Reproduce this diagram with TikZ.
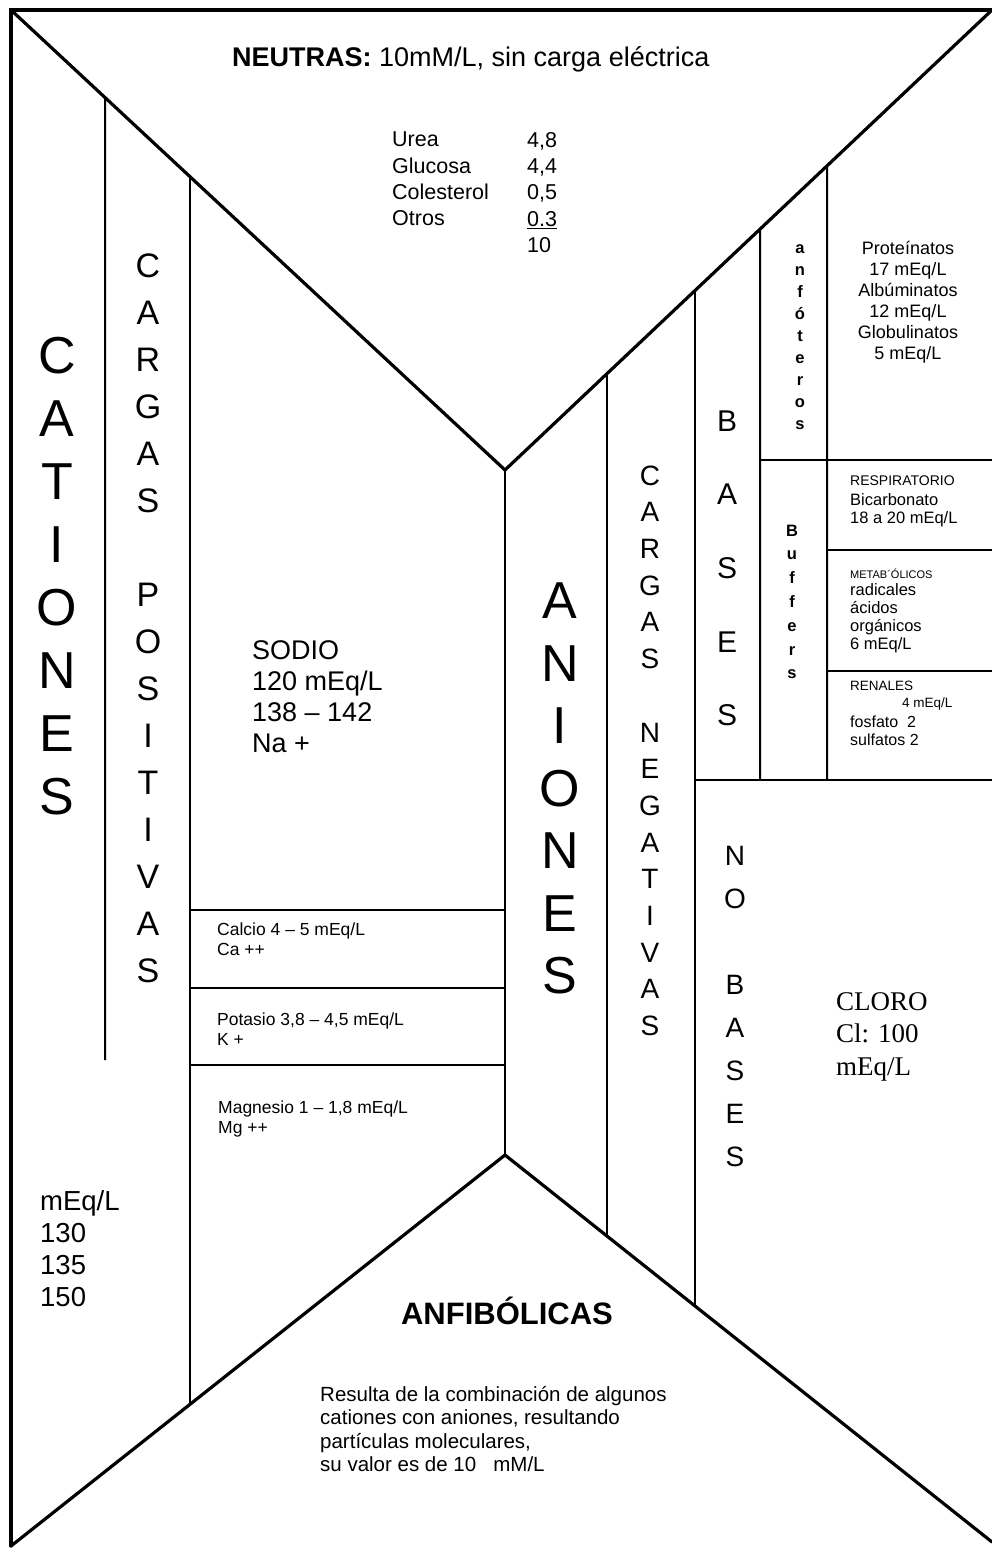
\documentclass[tikz,border=0pt]{standalone}
\usepackage{fontspec}
\setmainfont{Liberation Sans}
\newfontfamily\cloroserif{Liberation Serif}
\usetikzlibrary{calc}

\newcommand\sz[2]{\fontsize{#1}{#2}\selectfont}

\begin{document}
\begin{tikzpicture}[x=1pt, y=-1pt,
  frame/.style={line width=3.2pt, line cap=round, line join=miter},
  divider/.style={line width=2pt},
  bigletter/.style={anchor=base, inner sep=0pt, font=\sz{52}{52}},
  midletter/.style={anchor=base, inner sep=0pt, font=\sz{34}{34}},
  negletter/.style={anchor=base, inner sep=0pt, font=\sz{28}{28}},
  basletter/.style={anchor=base, inner sep=0pt, font=\sz{30}{30}},
  boldletter/.style={anchor=base, inner sep=0pt, font=\bfseries\sz{16.5}{16.5}},
  txt/.style={anchor=north west, inner sep=0pt, align=left}
]
\useasboundingbox (0,0) rectangle (992,1548);

%% ---- frame corners and the two V points ----
\coordinate (tl)   at (11,10);
\coordinate (tr)   at (992,10);
\coordinate (bl)   at (11,1546);
\coordinate (br)   at (992,1542);
\coordinate (vtop) at (505,470);
\coordinate (vbot) at (505,1155);

\draw[frame] (bl) -- (tl) -- (tr);
\draw[frame] (tl) -- (vtop) -- (tr);
\draw[frame] (bl) -- (vbot) -- (br);
\draw[divider] (vtop) -- (vbot);

%% ---- left columns ----
\draw[divider] ($(tl)!0.1903!(vtop)$) -- (105,1060);
\draw[divider] ($(tl)!0.3623!(vtop)$) -- ($(bl)!0.3623!(vbot)$);
\foreach \yy in {910,988,1065}
  \draw[divider] (190,\yy) -- (505,\yy);

%% ---- right columns ----
\draw[divider] ($(tr)!0.7906!(vtop)$) -- ($(br)!0.7906!(vbot)$);
\draw[divider] ($(tr)!0.6099!(vtop)$) -- ($(br)!0.6099!(vbot)$);
\draw[divider] ($(tr)!0.4764!(vtop)$) -- (760,780);
\draw[divider] ($(tr)!0.3388!(vtop)$) -- (827,780);
\draw[divider] (695,780) -- (992,780);
\draw[divider] (760,460) -- (992,460);
\draw[divider] (827,550) -- (992,550);
\draw[divider] (827,671) -- (992,671);

%% ---- top: neutral particles ----
\node[anchor=base west, inner sep=0pt, font=\sz{27}{31}] (neutras) at (232,66)
  {\textbf{NEUTRAS:} 10mM/L, sin carga eléctrica};
\node[txt, font=\sz{21.5}{26.3}] (neunames) at (392,132)
  {Urea\\Glucosa\\Colesterol\\Otros};
\node[txt, font=\sz{21.5}{26.3}] (neuvals) at (527,132)
  {4,8\\4,4\\0,5\\\underline{0.3}\\10};

%% ---- cations ----
\foreach \ch [count=\i] in {C,A,T,I,O,N,E,S}
  \node[bigletter] (cat\i) at (57,{373.5+63*(\i-1)}) {\ch};
\foreach \ch [count=\i] in {C,A,R,G,A,S}
  \node[midletter] (cpos\i) at (148,{277+47*(\i-1)}) {\ch};
\foreach \ch [count=\i] in {P,O,S,I,T,I,V,A,S}
  \node[midletter] (ppos\i) at (148,{606+47*(\i-1)}) {\ch};

\node[txt, font=\sz{27}{31}] (sodio) at (252,640)
  {SODIO\\120 mEq/L\\138 -- 142\\Na +};
\node[txt, font=\sz{17.5}{20}] (calcio) at (217,923)
  {Calcio 4 -- 5 mEq/L\\Ca ++};
\node[txt, font=\sz{17.5}{20}] (potasio) at (217,1013)
  {Potasio 3,8 -- 4,5 mEq/L\\K +};
\node[txt, font=\sz{17.5}{20}] (magnesio) at (218,1101)
  {Magnesio 1 -- 1,8 mEq/L\\Mg ++};
\node[txt, font=\sz{27.5}{32}] (valores) at (40,1190)
  {mEq/L\\130\\135\\150};

%% ---- anions ----
\foreach \ch [count=\i] in {A,N,I,O,N,E,S}
  \node[bigletter] (ani\i) at (560,{618.5+62.5*(\i-1)}) {\ch};
\foreach \ch [count=\i] in {C,A,R,G,A,S}
  \node[negletter] (cneg\i) at (650,{485+36.7*(\i-1)}) {\ch};
\foreach \ch [count=\i] in {N,E,G,A,T,I,V,A,S}
  \node[negletter] (nneg\i) at (650,{742+36.7*(\i-1)}) {\ch};
\foreach \ch [count=\i] in {B,A,S,E,S}
  \node[basletter] (bas\i) at (727,{431+73.7*(\i-1)}) {\ch};
\foreach \ch [count=\i] in {N,O}
  \node[negletter] (nob\i) at (735,{865+43*(\i-1)}) {\ch};
\foreach \ch [count=\i] in {B,A,S,E,S}
  \node[negletter] (nobas\i) at (735,{994+43*(\i-1)}) {\ch};
\foreach \ch [count=\i] in {a,n,f,ó,t,e,r,o,s}
  \node[boldletter] (anf\i) at (800,{253+22*(\i-1)}) {\ch};
\foreach \ch [count=\i] in {B,u,f,f,e,r,s}
  \node[boldletter] (buf\i) at (792,{536+23.8*(\i-1)}) {\ch};

\node[anchor=north, inner sep=0pt, align=center, font=\sz{18}{21}] (proteinas) at (908,241)
  {Proteínatos\\17 mEq/L\\Albúminatos\\12 mEq/L\\Globulinatos\\5 mEq/L};

\node[txt, font=\sz{14}{18}] (resp) at (850,476) {RESPIRATORIO};
\node[txt, font=\sz{16.5}{18}] (bicarb) at (850,493)
  {Bicarbonato\\18 a 20 mEq/L};
\node[txt, font=\sz{11}{14}] (metab) at (850,569) {METAB´ÓLICOS};
\node[txt, font=\sz{16.5}{18}] (radicales) at (850,583)
  {radicales\\ácidos\\orgánicos\\6 mEq/L};
\node[txt, font=\sz{13.5}{17}] (renales) at (850,681) {RENALES};
\node[txt, font=\sz{13.5}{17}] (cuatro) at (902,698) {4 mEq/L};
\node[txt, font=\sz{16}{18}] (fosfato) at (850,716)
  {fosfato\ \ 2\\sulfatos 2};

\node[txt, font=\cloroserif\sz{27}{32.5}] (cloro) at (836,992)
  {CLORO\\Cl: 100\\mEq/L};

%% ---- bottom: amphibolic ----
\node[anchor=base, inner sep=0pt, font=\bfseries\sz{31}{35}] (anfib) at (507,1324)
  {ANFIBÓLICAS};
\node[txt, font=\sz{20.5}{23.5}] (resulta) at (320,1386)
  {Resulta de la combinación de algunos\\cationes con aniones, resultando\\partículas moleculares,\\su valor es de 10\ \ \ mM/L};

\end{tikzpicture}
\end{document}
